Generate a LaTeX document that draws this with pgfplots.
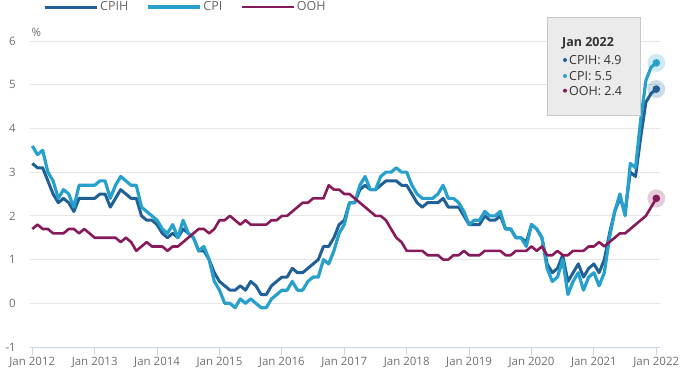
\documentclass[border=0pt]{standalone}
\usepackage{pgfplots}
\usepackage{pgfplotstable}
\pgfplotsset{compat=1.18}
\usepackage{fontspec}
\setmainfont{Open Sans}
\definecolor{cpih}{HTML}{206095}
\definecolor{cpi}{HTML}{27A0CC}
\definecolor{ooh}{HTML}{871A5B}
\definecolor{ticktxt}{HTML}{707070}
\definecolor{legtxt}{HTML}{666666}
\definecolor{gridc}{HTML}{E6E6E6}
\definecolor{axisc}{HTML}{CCD6EB}
\definecolor{tipfill}{HTML}{EBEBEB}
\definecolor{tipborder}{HTML}{C8C8C8}
\definecolor{tiptxt}{HTML}{333333}

\pgfplotstableread{
m cpih cpi ooh
0 3.2 3.6 1.7
1 3.1 3.4 1.8
2 3.1 3.5 1.7
3 2.8 3.0 1.7
4 2.5 2.8 1.6
5 2.3 2.4 1.6
6 2.4 2.6 1.6
7 2.3 2.5 1.7
8 2.1 2.2 1.7
9 2.4 2.7 1.6
10 2.4 2.7 1.7
11 2.4 2.7 1.6
12 2.4 2.7 1.5
13 2.5 2.8 1.5
14 2.5 2.8 1.5
15 2.2 2.4 1.5
16 2.4 2.7 1.5
17 2.6 2.9 1.4
18 2.5 2.8 1.5
19 2.4 2.7 1.4
20 2.4 2.7 1.2
21 2.0 2.2 1.3
22 1.9 2.1 1.4
23 1.9 2.0 1.3
24 1.8 1.9 1.3
25 1.6 1.7 1.3
26 1.5 1.6 1.2
27 1.6 1.8 1.3
28 1.5 1.5 1.3
29 1.7 1.9 1.4
30 1.6 1.6 1.5
31 1.5 1.5 1.6
32 1.2 1.2 1.7
33 1.2 1.3 1.7
34 1.0 1.0 1.6
35 0.7 0.5 1.7
36 0.5 0.3 1.9
37 0.4 0.0 1.9
38 0.3 0.0 2.0
39 0.3 -0.1 1.9
40 0.4 0.1 1.8
41 0.3 0.0 1.9
42 0.5 0.1 1.8
43 0.4 0.0 1.8
44 0.2 -0.1 1.8
45 0.2 -0.1 1.8
46 0.4 0.1 1.9
47 0.5 0.2 1.9
48 0.6 0.3 2.0
49 0.6 0.3 2.0
50 0.8 0.5 2.1
51 0.7 0.3 2.2
52 0.7 0.3 2.3
53 0.8 0.5 2.3
54 0.9 0.6 2.4
55 1.0 0.6 2.4
56 1.3 1.0 2.4
57 1.3 0.9 2.7
58 1.5 1.2 2.6
59 1.8 1.6 2.6
60 1.9 1.8 2.5
61 2.3 2.3 2.5
62 2.3 2.3 2.4
63 2.6 2.7 2.3
64 2.7 2.9 2.2
65 2.6 2.6 2.1
66 2.6 2.6 2.0
67 2.7 2.9 2.0
68 2.8 3.0 1.9
69 2.8 3.0 1.7
70 2.8 3.1 1.5
71 2.7 3.0 1.4
72 2.7 3.0 1.2
73 2.5 2.7 1.2
74 2.3 2.5 1.2
75 2.2 2.4 1.2
76 2.3 2.4 1.1
77 2.3 2.4 1.1
78 2.3 2.5 1.1
79 2.4 2.7 1.0
80 2.2 2.4 1.0
81 2.2 2.4 1.1
82 2.2 2.3 1.1
83 2.0 2.1 1.2
84 1.8 1.8 1.1
85 1.8 1.9 1.1
86 1.8 1.9 1.1
87 2.0 2.1 1.2
88 1.9 2.0 1.2
89 1.9 2.0 1.2
90 2.0 2.1 1.2
91 1.7 1.7 1.1
92 1.7 1.7 1.1
93 1.5 1.5 1.2
94 1.5 1.5 1.2
95 1.4 1.3 1.2
96 1.8 1.8 1.3
97 1.7 1.7 1.2
98 1.5 1.5 1.3
99 0.9 0.8 1.1
100 0.7 0.5 1.1
101 0.8 0.6 1.2
102 1.1 1.0 1.1
103 0.5 0.2 1.1
104 0.7 0.5 1.2
105 0.9 0.7 1.2
106 0.6 0.3 1.2
107 0.8 0.6 1.3
108 0.9 0.7 1.3
109 0.7 0.4 1.4
110 1.0 0.7 1.3
111 1.6 1.5 1.4
112 2.1 2.1 1.5
113 2.4 2.5 1.6
114 2.1 2.0 1.6
115 3.0 3.2 1.7
116 2.9 3.1 1.8
117 3.8 4.2 1.9
118 4.6 5.1 2.0
119 4.8 5.4 2.2
120 4.9 5.5 2.4
}\data

\begin{document}
\begin{tikzpicture}
\path[use as bounding box] (0pt,0pt) rectangle (682pt,378pt);
\begin{axis}[
  at={(30pt,31pt)}, anchor=south west,
  scale only axis, width=630pt, height=306pt,
  xmin=-0.44, xmax=120.71, ymin=-1, ymax=6,
  clip=false,
  axis line style={draw=none},
  xtick={0,12,...,120},
  xticklabels={Jan 2012,Jan 2013,Jan 2014,Jan 2015,Jan 2016,Jan 2017,Jan 2018,Jan 2019,Jan 2020,Jan 2021,Jan 2022},
  ytick={-1,0,...,6},
  yticklabels={-1,0,1,2,3,4,5,6},
  xtick pos=bottom,
  tick align=outside,
  major tick length=8pt,
  xtick style={draw=axisc, line width=1pt},
  ytick style={draw=none},
  ymajorgrids,
  grid style={draw=gridc, line width=1pt},
  xticklabel style={font=\fontsize{11.5}{13}\selectfont, text=ticktxt, anchor=base, inner sep=0pt, yshift=-10pt},
  yticklabel style={font=\fontsize{11.5}{13}\selectfont, text=ticktxt, anchor=east, inner sep=0pt, xshift=-6pt},
  legend columns=3,
  legend style={at={(rel axis cs:0.0206,1.111)}, anchor=west, draw=none, fill=none,
    inner sep=0pt, font=\fontsize{12.5}{14}\selectfont, text=legtxt,
    /tikz/every even column/.append style={column sep=16pt}},
  legend image code/.code={\draw[#1, line cap=butt] (0pt,0pt) -- (52pt,0pt);},
]
\draw[axisc, line width=1pt] (rel axis cs:0,0) -- (rel axis cs:1,0);
\addplot[cpih, line width=3pt, line join=round, mark=none] table[x=m,y=cpih]{\data};
\addlegendentry{CPIH}
\addplot[cpi, line width=3.2pt, line join=round, mark=none] table[x=m,y=cpi]{\data};
\addlegendentry{CPI}
\addplot[ooh, line width=2.6pt, line join=round, mark=none] table[x=m,y=ooh]{\data};
\addlegendentry{OOH}
% hover markers at Jan 2022
\addplot[forget plot, only marks, color=cpih, mark=*, mark size=9pt, mark options={solid, fill=cpih, fill opacity=0.22, draw opacity=0}] coordinates {(120,4.9)};
\addplot[forget plot, only marks, color=cpi, mark=*, mark size=9pt, mark options={solid, fill=cpi, fill opacity=0.22, draw opacity=0}] coordinates {(120,5.5)};
\addplot[forget plot, only marks, color=ooh, mark=*, mark size=9pt, mark options={solid, fill=ooh, fill opacity=0.22, draw opacity=0}] coordinates {(120,2.4)};
\addplot[forget plot, only marks, color=cpih, mark=*, mark size=3.8pt, mark options={solid, fill=cpih, draw opacity=0}] coordinates {(120,4.9)};
\addplot[forget plot, only marks, color=cpi, mark=*, mark size=3.8pt, mark options={solid, fill=cpi, draw opacity=0}] coordinates {(120,5.5)};
\addplot[forget plot, only marks, color=ooh, mark=*, mark size=3.8pt, mark options={solid, fill=ooh, draw opacity=0}] coordinates {(120,2.4)};
\node[anchor=base west, inner sep=0pt, text=ticktxt, font=\fontsize{11.5}{13}\selectfont] at ([xshift=1.5pt,yshift=5pt]rel axis cs:0,1) {\%};
\end{axis}
% tooltip
\draw[fill=tipfill, draw=tipborder, line width=0.8pt] (547pt,263pt) rectangle (640.5pt,361pt);
\node[anchor=base west, inner sep=0pt, text=tiptxt, font=\bfseries\fontsize{12.5}{14}\selectfont] at (562pt,331pt) {Jan 2022};
\fill[cpih] (565pt,318pt) circle (2pt);
\node[anchor=base west, inner sep=0pt, text=tiptxt, font=\fontsize{12.5}{14}\selectfont] at (569pt,313.5pt) {CPIH: 4.9};
\fill[cpi] (565pt,302pt) circle (2pt);
\node[anchor=base west, inner sep=0pt, text=tiptxt, font=\fontsize{12.5}{14}\selectfont] at (569pt,297.5pt) {CPI: 5.5};
\fill[ooh] (565pt,287.3pt) circle (2pt);
\node[anchor=base west, inner sep=0pt, text=tiptxt, font=\fontsize{12.5}{14}\selectfont] at (569pt,282.8pt) {OOH: 2.4};
\end{tikzpicture}
\end{document}
